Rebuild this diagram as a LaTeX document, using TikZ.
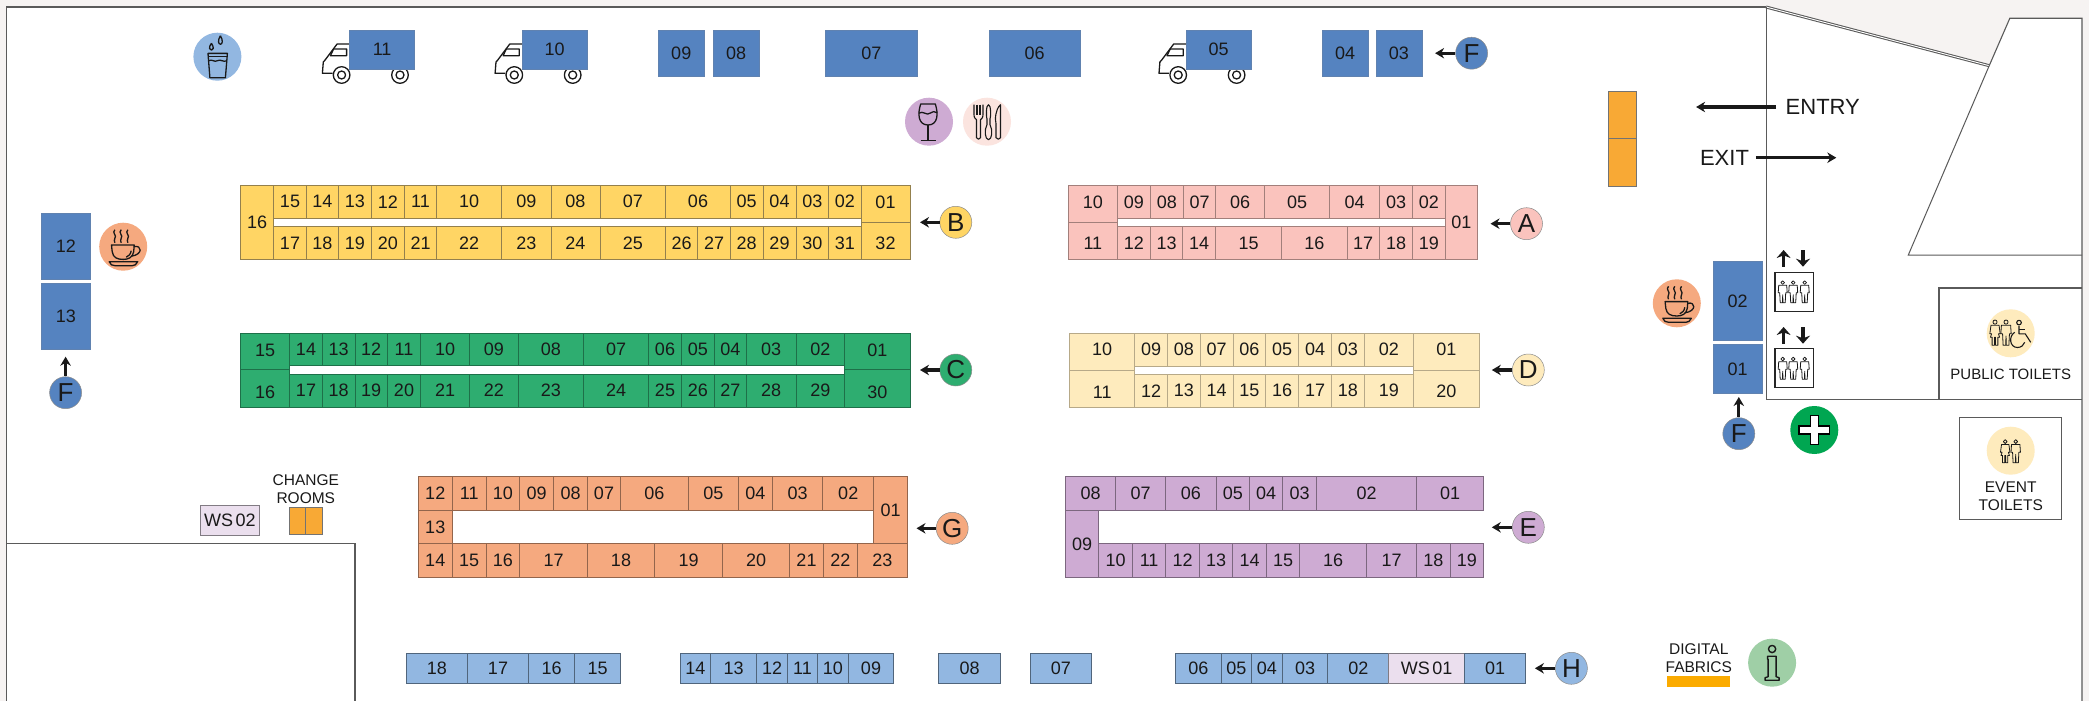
\documentclass[tikz,border=0pt]{standalone}
\usepackage{fontspec}
\setmainfont{Liberation Sans}
\usetikzlibrary{arrows.meta}
\definecolor{bgout}{HTML}{F6F3F2}
\definecolor{cY}{HTML}{FFD564}
\definecolor{cP}{HTML}{FAC3BD}
\definecolor{cG}{HTML}{2EAD70}
\definecolor{cD}{HTML}{FEEBBD}
\definecolor{cO}{HTML}{F5A97F}
\definecolor{cV}{HTML}{CEABD3}
\definecolor{cB}{HTML}{5583C0}
\definecolor{cL}{HTML}{92B7E1}
\definecolor{cW}{HTML}{EBDFEE}
\definecolor{cA}{HTML}{F8A935}
\definecolor{cR}{HTML}{FBE4DF}
\definecolor{cI}{HTML}{9FCFA6}
\definecolor{cF}{HTML}{00A651}
\definecolor{cT}{HTML}{FBAB00}
\definecolor{lineg}{HTML}{5A5A5A}
\colorlet{eccY}{cY!60!black!75!gray}
\colorlet{eccP}{cP!65!black}
\colorlet{eccG}{cG!65!black}
\colorlet{eccD}{cD!72!black}
\colorlet{eccO}{cO!60!black}
\colorlet{eccV}{cV!60!black}
\colorlet{eccB}{cB!75!gray}
\colorlet{eccL}{cL!55!black}
\colorlet{eccW}{cW!55!black}
\tikzset{
  cellbox/.style={line width=0.8pt},
  celltext/.style={inner sep=0pt,font=\fontsize{18}{20}\selectfont,text=black!90},
  tag/.style={circle,draw=black!45,line width=0.5pt,minimum size=32pt,inner sep=0pt,font=\fontsize{26}{26}\selectfont,text=black!90},
  arr/.style={line width=3.1pt,-{Stealth[length=9pt,width=10.5pt]},black!90},
  liftarr/.style={line width=3.6pt,-{Stealth[length=8pt,width=14pt]},black!90},
  disc/.style={circle,minimum size=48pt,inner sep=0pt},
  smalltext/.style={inner sep=0pt,font=\fontsize{15.5}{17}\selectfont,text=black!90},
  bigtext/.style={inner sep=0pt,font=\fontsize{22}{24}\selectfont,text=black!90},
  wall/.style={draw=lineg,line width=1.1pt},
  ico/.style={draw=black!90,line width=1.3pt,line join=round},
}
\newcommand\cellrow[6]{%
  \foreach \b/\t [remember=\b as \a (initially #5)] in {#6} {
    \path[cellbox,draw=ec#1,fill=#1] (\a,#3) rectangle (\b,#4);
    \node[celltext,name=#2\t] at ({(\a+\b)/2},{(#3+#4)/2}) {\t};
  }}
% colour, name prefix, x left, x right, y top, y split, y bottom, top label, its y, bottom label, its y
\newcommand\splitcell[9]{%
  \path[cellbox,draw=ec#1,fill=#1] (#3,#5) rectangle (#4,#6);
  \path[cellbox,draw=ec#1,fill=#1] (#3,#6) rectangle (#4,#7);
  \def\sca{#8}\def\scb{#9}\def\scpre{#2}\def\scxa{#3}\def\scxb{#4}\splitcellrest}
\newcommand\splitcellrest[4]{%
  \node[celltext,name=\scpre#1] at ({(\scxa+\scxb)/2},\sca) {#1};
  \node[celltext,name=\scpre#2] at ({(\scxa+\scxb)/2},\scb) {#2};}
\newcommand\truck[1]{%
  \begin{scope}[shift={(#1,0)},ico]
    \draw[fill=white] (0,44) -- (-12.5,44) -- (-24.5,60) -- (-26.3,62) -- (-27.2,73.3) -- (-17,73.3);
    \draw (-16,49) -- (-3,49) -- (-3,55.7) -- (-19.2,55.7) -- cycle;
    \draw[fill=white] (-8,75) circle (8.3);
    \draw (-8,75) circle (4);
    \draw[fill=white] (50.4,75) circle (8.3);
    \draw (50.4,75) circle (4);
  \end{scope}}
\newcommand\coffeeicon[1]{%
  \begin{scope}[shift={(#1)},ico]
    \draw (-11.7,-1.7) -- (11,-1.7) -- (10.5,5) .. controls (9.5,11) and (5,12.7) .. (0,12.7) .. controls (-6,12.7) and (-10,11) .. (-11,5) -- cycle;
    \draw (10.8,0) .. controls (19,-2) and (20,8) .. (8,9.5);
    \draw (3,10.5) .. controls (5.5,9.5) and (7.5,7.5) .. (8,4);
    \draw (-14,15) -- (14.5,15) .. controls (13.5,18) and (11,19) .. (9,19) -- (-8,19) .. controls (-11,19) and (-13,18) .. (-14,15) -- cycle;
    \foreach \dx in {-8.3,-2,4.7} {
      \draw[xshift=\dx pt] (0,-17) .. controls (-3.5,-14) and (2.5,-11) .. (0,-8.5) .. controls (-2.5,-6.5) and (1,-5.5) .. (0,-4);
    }
  \end{scope}}
\newcommand\personicon[3]{%
  \begin{scope}[shift={(#1,#2)},scale=#3,draw=black!90,line width=0.8pt,line join=round]
    \draw (0,1.8) circle (1.8);
    \draw (-4,4.5) -- (4,4.5) -- (4.5,12) -- (3,12) -- (2.5,22) -- (0.3,22) -- (0,14) -- (-0.3,22) -- (-2.5,22) -- (-3,12) -- (-4.5,12) -- cycle;
  \end{scope}}
\newcommand\womanicon[3]{%
  \begin{scope}[shift={(#1,#2)},scale=#3,draw=black!90,line width=0.8pt,line join=round]
    \draw (0,1.8) circle (1.8);
    \draw (-3.5,4.5) -- (3.5,4.5) -- (4.5,12) -- (3,12) -- (4,15) -- (2.5,15) -- (2.5,22) -- (0.5,22) -- (0.5,15) -- (-0.5,15) -- (-0.5,22) -- (-2.5,22) -- (-2.5,15) -- (-4,15) -- (-3,12) -- (-4.5,12) -- cycle;
  \end{scope}}
\begin{document}
\begin{tikzpicture}[x=1pt,y=-1pt]
\useasboundingbox (0,0) rectangle (2089,701);
\fill[bgout] (0,0) rectangle (2089,701);
% floor
\path[fill=white] (6.7,7) -- (1766,7) -- (1989.2,65.7) -- (2009.8,18.3) -- (2082,18.3) -- (2082,701) -- (6.7,701) -- cycle;
\draw[wall] (6.7,701) -- (6.7,7) -- (1766,7);
\draw[wall,line width=3pt] (1766,7) -- (1989.2,65.7);
\draw[draw=white,line width=0.9pt] (1766,7) -- (1989.2,65.7);
\draw[wall] (1989.2,65.7) -- (2009.8,18.3) -- (2082,18.3) -- (2082,701);
\draw[draw=lineg,line width=1pt] (1989.2,65.7) -- (1908.3,255) -- (2082,255);
\draw[draw=lineg,line width=1pt] (1766,7) -- (1766,399.3);
\draw[wall] (1766,399.3) -- (2082,399.3);
\draw[wall] (1939,399.3) -- (1939,288) -- (2082,288);
\draw[wall] (6.7,543.7) -- (355,543.7) -- (355,701);
\draw[wall] (1959.7,417.3) rectangle (2061.7,519.3);

% trucks
\truck{349.6}\truck{522.3}\truck{1186.2}
% top blue
\cellrow{cB}{tp}{30}{69.3}{349.6}{414.7/11}
\cellrow{cB}{tp}{30}{69.3}{522.3}{587/10}
\cellrow{cB}{tp}{30}{69.3}{1186.2}{1250.9/05}
\cellrow{cB}{tp}{30}{76.7}{658}{704.5/09}
\cellrow{cB}{tp}{30}{76.7}{713}{759.4/08}
\cellrow{cB}{tp}{30}{76.7}{825.4}{917.4/07}
\cellrow{cB}{tp}{30}{76.7}{989.3}{1079.9/06}
\cellrow{cB}{tp}{30}{76.7}{1321.9}{1368.3/04}
\cellrow{cB}{tp}{30}{76.7}{1375.9}{1422/03}
\cellrow{cB}{tp}{213.7}{279.3}{41}{90.6/12}
\cellrow{cB}{tp}{283.3}{349}{41}{90.6/13}
\cellrow{cB}{tp}{261}{340.7}{1713.3}{1762/02}
\cellrow{cB}{tp}{344.7}{393.3}{1713.3}{1762/01}

% B
\cellrow{cY}{b}{185.3}{259.3}{240.6}{273.7/16}
\cellrow{cY}{b}{185.3}{218.3}{273.7}{306.3/15,338.4/14,371.4/13,404.5/12,436.6/11,501.8/10,550.9/09,600/08,665.6/07,730.4/06,763/05,796/04,828.6/03,861/02}
\cellrow{cY}{b}{226.7}{259.3}{273.7}{306.3/17,338.4/18,371.4/19,404.5/20,436.6/21,501.8/22,550.9/23,600/24,665.6/25,697.8/26,730.4/27,763/28,796/29,828.6/30,861/31}
\splitcell{cY}{b}{861}{910}{185.3}{222.3}{259.3}{202}{243.5}{01}{32}{}{}
% A
\splitcell{cP}{a}{1068.3}{1117.4}{185.3}{222}{259.3}{202}{243.5}{10}{11}{}{}
\cellrow{cP}{a}{185.3}{218.7}{1117.4}{1150.4/09,1183.5/08,1215.6/07,1264.7/06,1329.5/05,1379.5/04,1412.7/03,1445/02}
\cellrow{cP}{a}{226.7}{259.3}{1117.4}{1150.4/12,1182.6/13,1215.6/14,1281.7/15,1346.9/16,1379.5/17,1412.7/18,1445/19}
\cellrow{cP}{a}{185.3}{259.3}{1445}{1477.8/01}
% C
\splitcell{cG}{c}{240.6}{289.7}{333}{369.7}{407.3}{350.7}{392.3}{15}{16}{}{}
\cellrow{cG}{c}{333}{365.7}{289.7}{322.3/14,354.9/13,387.5/12,420.5/11,469.6/10,518.3/09,583.5/08,648.7/07,681.3/06,714.3/05,746.4/04,796/03,844.6/02}
\cellrow{cG}{c}{374}{407.3}{289.7}{322.3/17,354.9/18,387.5/19,420.5/20,469.6/21,518.3/22,583.5/23,648.7/24,681.3/25,714.3/26,746.4/27,796/28,844.6/29}
\splitcell{cG}{c}{844.6}{910.3}{333}{369.7}{407.3}{350.7}{392.3}{01}{30}{}{}
% D
\splitcell{cD}{d}{1069.6}{1134.8}{333.3}{370.3}{407.3}{349.5}{392.5}{10}{11}{}{}
\cellrow{cD}{d}{333.3}{366}{1134.8}{1167.4/09,1200.4/08,1233/07,1265.6/06,1298.7/05,1331.3/04,1364.3/03,1413.6/02}
\cellrow{cD}{d}{374.3}{407.3}{1134.8}{1167.4/12,1200.4/13,1233/14,1265.6/15,1298.7/16,1331.3/17,1364.3/18,1413.6/19}
\splitcell{cD}{d}{1413.6}{1479}{333.3}{370.3}{407.3}{349.5}{391.5}{01}{20}{}{}
% G
\cellrow{cO}{g}{476.3}{510}{418.3}{452.2/12,486.2/11,519.6/10,553.6/09,587.5/08,620.5/07,688.4/06,738.4/05,772.3/04,822.8/03,873.7/02}
\cellrow{cO}{g}{510}{543.7}{418.3}{452.2/13}
\cellrow{cO}{g}{543.7}{577.7}{418.3}{452.2/14,486.2/15,519.6/16,587.5/17,654.5/18,722.8/19,789.3/20,823.7/21,857.1/22,907.6/23}
\cellrow{cO}{g}{476.3}{543.7}{873.7}{907.6/01}
% E
\cellrow{cV}{e}{476.7}{510.3}{1065.6}{1115.6/08,1165.6/07,1216/06,1249.6/05,1282.6/04,1316.5/03,1416.7/02,1483.5/01}
\cellrow{cV}{e}{510.3}{577.3}{1065.6}{1098.7/09}
\cellrow{cV}{e}{543.7}{577.3}{1098.7}{1132.6/10,1165.6/11,1199.6/12,1232.6/13,1266.5/14,1299.6/15,1366.5/16,1416.7/17,1450/18,1483.5/19}
% H
\cellrow{cL}{h}{653.3}{683.3}{406.3}{467.4/18,528.6/17,574.6/16,620.5/15}
\cellrow{cL}{h}{653.3}{683.3}{679.9}{710.7/14,756.7/13,787.5/12,817.4/11,848.2/10,893.8/09}
\cellrow{cL}{h}{653.3}{683.3}{938.8}{1000.4/08}
\cellrow{cL}{h}{653.3}{683.3}{1030.4}{1091.5/07}
\cellrow{cL}{h}{653.3}{683.3}{1175.4}{1221.4/06,1251.3/05,1282.6/04,1327.7/03,1388.8/02}
\path[cellbox,draw=eccW,fill=cW] (1388.8,653.3) rectangle (1464.6,683.3);
\node[celltext,name=ws1] at (1426.7,668.3) {WS\hspace{2.5pt}01};
\cellrow{cL}{h}{653.3}{683.3}{1464.6}{1525.7/01}
\path[cellbox,draw=eccW,fill=cW] (200.4,505.3) rectangle (259.4,535.7);
\node[celltext,name=ws2] at (229.9,520.5) {WS\hspace{2.5pt}02};
% orange
\path[cellbox,draw=black!55,fill=cA] (1608.3,91.7) rectangle (1636.4,138.3);
\path[cellbox,draw=black!55,fill=cA] (1608.3,138.3) rectangle (1636.4,186.3);
\path[cellbox,draw=black!55,fill=cA] (289.3,507) rectangle (305.8,534.7);
\path[cellbox,draw=black!55,fill=cA] (305.8,507) rectangle (322.8,534.7);
\node[smalltext,name=chg1] at (305.8,479.7) {CHANGE};
\node[smalltext,name=chg2] at (305.8,497.7) {ROOMS};

% tags and arrows
\foreach \n/\x/\y/\tx/\ty/\l/\c in {
  fa/1471.6/53.2/1435.1/53.2/F/cB,
  nb/955.8/222.3/920/222.3/B/cY,
  na/1526.5/223.7/1490.5/223.7/A/cP,
  nc/955.8/370/920/370/C/cG,
  nd/1528.3/370/1491.8/370/D/cD,
  ng/952.2/528.3/916.5/528.3/G/cO,
  ne/1528.3/527.3/1491.8/527.3/E/cV,
  nh/1571.4/668.3/1534.9/668.3/H/cL,
  fb/65.6/392.7/65.6/356.7/F/cB,
  fc/1738.8/433.7/1738.8/397/F/cB} {
  \node[tag,fill=\c,name=\n] at (\x,\y) {\l};
  \coordinate (\n t) at (\tx,\ty);
  \draw[arr] (\n) -- (\n t);
}

% entry / exit
\node[bigtext,name=entry] at (1822.8,107) {ENTRY};
\coordinate (entryt) at (1696.1,107);
\coordinate (entrys) at (1776.1,107);
\draw[arr] (entrys) -- (entryt);
\node[bigtext,name=exit] at (1724.5,157.7) {EXIT};
\coordinate (exitt) at (1836.3,157.7);
\coordinate (exits) at (1755.9,157.7);
\draw[arr] (exits) -- (exitt);

% discs
\node[disc,fill=cL,name=dw] at (217.4,56.7) {};
\begin{scope}[shift={(217.4,56.7)},ico]
  \draw (-9.4,-3.3) -- (10,-3.3) -- (8,21) -- (-7.5,21) -- cycle;
  \draw (-9.4,0) -- (10,0);
  \draw (-9,4) .. controls (-5,2) and (-3,6) .. (0,4) .. controls (3,2) and (6,6) .. (9.6,4);
  \draw (-6,-13.5) .. controls (-9,-9) and (-8,-6.5) .. (-6,-6.5) .. controls (-4,-6.5) and (-3,-9) .. (-6,-13.5);
  \draw (3,-21) .. controls (0,-16) and (1,-12.5) .. (3,-12.5) .. controls (5,-12.5) and (6,-16) .. (3,-21);
\end{scope}
\node[disc,fill=cO,name=dc1] at (123.2,246.7) {};
\coffeeicon{123.2,246.7}
\node[disc,fill=cO,name=dc2] at (1676.8,303.3) {};
\coffeeicon{1676.8,303.3}
\node[disc,fill=cV,name=dwine] at (929,121.7) {};
\begin{scope}[shift={(928,121.7)},ico]
  \draw (-7.3,-17.7) -- (7.3,-17.7) .. controls (10.5,-8) and (10,3.3) .. (0,3.3) .. controls (-10,3.3) and (-10.5,-8) .. (-7.3,-17.7) -- cycle;
  \draw (-9.3,-8.5) .. controls (-5,-11.5) and (-1,-5.5) .. (2,-8.5) .. controls (4,-10.5) and (7,-10.5) .. (9.3,-9);
  \draw (0,3.3) -- (0,18);
  \draw (-7.5,18.5) -- (7.5,18.5);
\end{scope}
\node[disc,fill=cR,name=dcut] at (987,121.7) {};
\begin{scope}[shift={(987,121.7)},ico,line width=1.1pt]
  \draw (-13,-17) -- (-13,-7) .. controls (-13,-3) and (-11,-3) .. (-10.5,-2) -- (-10.5,16) .. controls (-10,18) and (-7,18) .. (-6.5,16) -- (-6.5,-2) .. controls (-6,-3) and (-4,-3) .. (-4,-7) -- (-4,-17);
  \draw (-10,-17) -- (-10,-7) (-7,-17) -- (-7,-7);
  \draw (1.5,-17) .. controls (-1,-17) and (-1,-5) .. (0,-3) -- (0,3) .. controls (-3,8) and (-2,18) .. (1.5,18) .. controls (5,18) and (6,8) .. (3,3) -- (3,-3) .. controls (4,-5) and (4,-17) .. (1.5,-17) -- cycle;
  \draw (13.5,-17) .. controls (8,-12) and (8,-2) .. (9,2) -- (9,16) .. controls (10,18) and (13,18) .. (13.5,16) -- (13.5,-17) -- cycle;
\end{scope}
% first aid
\node[disc,fill=cF,name=dfa] at (1814.3,430) {};
\draw[draw=black,line width=1.3pt,fill=white] (1810.3,415.5) -- (1818.3,415.5) -- (1818.3,426) -- (1829.7,426) -- (1829.7,434) -- (1818.3,434) -- (1818.3,444.5) -- (1810.3,444.5) -- (1810.3,434) -- (1798.9,434) -- (1798.9,426) -- (1810.3,426) -- cycle;
% lifts
\foreach \ya/\yb/\za/\zb/\m in {272.3/311.3/250/266.7/la,348.7/387.3/327/343.7/lb} {
  \draw[draw=black!85,line width=1.4pt,fill=white] (1774.8,\ya) rectangle (1813.4,\yb);
  \coordinate (\m u) at (1783.6,\za);
  \coordinate (\m us) at (1783.6,\zb);
  \coordinate (\m d) at (1803,\zb);
  \coordinate (\m ds) at (1803,\za);
  \draw[liftarr] (\m us) -- (\m u);
  \draw[liftarr] (\m ds) -- (\m d);
  \personicon{1782.7}{\ya+8.5}{1}
  \personicon{1793.2}{\ya+8.5}{1}
  \personicon{1804.7}{\ya+8.5}{1}
}
% toilets
\node[disc,fill=cD,name=dpub] at (2010.7,333.3) {};
\womanicon{1995}{320}{1.15}
\personicon{2006}{320}{1.15}
\begin{scope}[shift={(2010.7,333.3)},ico,line width=1.1pt]
  \draw (8.3,-10.7) circle (2.3);
  \draw (8.3,-7.5) -- (8.3,0.5) -- (14.5,0.5) -- (20,9);
  \draw (8.3,-3.5) -- (14,-3.5);
  \draw (4,-1) .. controls (-2.5,3) and (-1,14.2) .. (6.7,14.2) .. controls (10.5,14.2) and (13,12) .. (14,9);
\end{scope}
\node[inner sep=0pt,font=\fontsize{15}{17}\selectfont,text=black!90,name=pub] at (2010.7,374.3) {PUBLIC TOILETS};
\node[disc,fill=cD,name=devt] at (2010.7,450.7) {};
\womanicon{2005.2}{439.7}{1.05}
\personicon{2015.7}{439.7}{1.05}
\node[smalltext,name=evt1] at (2010.7,487.3) {EVENT};
\node[smalltext,name=evt2] at (2010.7,505) {TOILETS};
% info
\node[disc,fill=cI,name=dinfo] at (1772.1,662.7) {};
\begin{scope}[shift={(1772.1,662.7)},ico,line width=1.4pt]
  \draw (0,-13.7) circle (3.6);
  \draw (-4.5,-6.5) -- (4,-6.5) -- (4,14) -- (7,15) -- (7,17.5) -- (-7,17.5) -- (-7,15) -- (-4,14) -- (-4,-3.5) -- (-4.5,-3.5) -- cycle;
\end{scope}
\node[smalltext,name=dig1] at (1698.8,649) {DIGITAL};
\node[smalltext,name=dig2] at (1698.8,667) {FABRICS};
\fill[cT] (1666.7,676.3) rectangle (1730.4,686.7);
\end{tikzpicture}
\end{document}
